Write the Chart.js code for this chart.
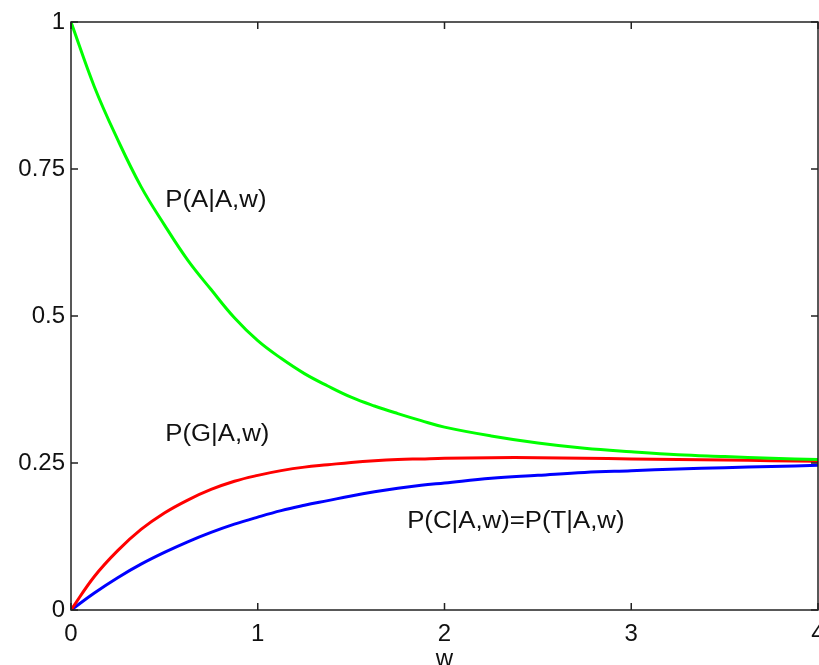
<!DOCTYPE html>
<html>
<head>
<meta charset="utf-8">
<style>
  html, body { margin: 0; padding: 0; overflow: hidden; background: #fff; }
  #wrap { position: absolute; left: 0; top: 0; }
</style>
<script src="https://cdn.jsdelivr.net/npm/chart.js@4/dist/chart.umd.min.js"></script>
</head>
<body>
<div id="wrap"><canvas id="probs" width="850" height="700"></canvas></div>
<script>
const w = [0, 0.125, 0.25, 0.375, 0.5, 0.625, 0.75, 0.875, 1, 1.125, 1.25, 1.375, 1.5, 1.625, 1.75, 1.875, 2, 2.25, 2.5, 2.75, 3, 3.25, 3.5, 3.75, 4];

const pAA = [1, 0.89, 0.80, 0.72, 0.655, 0.595, 0.545, 0.497, 0.458, 0.428, 0.402, 0.381, 0.362, 0.347, 0.334, 0.322, 0.311, 0.296, 0.284, 0.275, 0.269, 0.264, 0.261, 0.258, 0.256];
const pGA = [0, 0.057, 0.101, 0.137, 0.165, 0.187, 0.205, 0.219, 0.229, 0.237, 0.243, 0.247, 0.251, 0.254, 0.256, 0.257, 0.258, 0.259, 0.259, 0.258, 0.257, 0.256, 0.255, 0.254, 0.253];
const pCA = [0, 0.029, 0.055, 0.078, 0.098, 0.116, 0.132, 0.146, 0.158, 0.169, 0.178, 0.186, 0.194, 0.201, 0.207, 0.212, 0.216, 0.224, 0.229, 0.234, 0.237, 0.240, 0.242, 0.244, 0.246];

const yTicks = [0, 0.25, 0.5, 0.75, 1];
const xTicks = [0, 1, 2, 3, 4];

const notes = [
    { text: "P(A|A,w)", x: 0.505, y: 0.697 },
    { text: "P(G|A,w)", x: 0.505, y: 0.298 },
    { text: "P(C|A,w)=P(T|A,w)", x: 1.8, y: 0.150 },
];

const font = "'Liberation Sans', Arial, Helvetica, sans-serif";

function pts(ys) {
    return w.map((x, i) => ({ x, y: ys[i] }));
}

const line = (data, color) => ({
    data: pts(data),
    borderColor: color,
    borderWidth: 3,
    pointRadius: 0,
    showLine: true,
    fill: false,
    tension: 0.4,
});

// matlab style box with inward ticks, plus curve labels
const frame = {
    id: "frame",
    afterDatasetsDraw(chart) {
        const { ctx, chartArea: a, scales } = chart;
        ctx.save();
        ctx.strokeStyle = "#222";
        ctx.lineWidth = 1.5;
        ctx.strokeRect(a.left, a.top, a.right - a.left, a.bottom - a.top);
        const len = 7;
        ctx.beginPath();
        xTicks.forEach(v => {
            const px = scales.x.getPixelForValue(v);
            ctx.moveTo(px, a.bottom); ctx.lineTo(px, a.bottom - len);
            ctx.moveTo(px, a.top); ctx.lineTo(px, a.top + len);
        });
        yTicks.forEach(v => {
            const py = scales.y.getPixelForValue(v);
            ctx.moveTo(a.left, py); ctx.lineTo(a.left + len, py);
            ctx.moveTo(a.right, py); ctx.lineTo(a.right - len, py);
        });
        ctx.stroke();

        ctx.fillStyle = "#111";
        ctx.font = "23px " + font;
        ctx.textAlign = "left";
        ctx.textBaseline = "middle";
        notes.forEach(n => {
            const px = scales.x.getPixelForValue(n.x);
            const py = scales.y.getPixelForValue(n.y);
            ctx.save();
            ctx.translate(px, py);
            ctx.scale(1.12, 1);   // reference text is a bit stretched
            ctx.fillText(n.text, 0, 0);
            ctx.restore();
        });
        ctx.restore();
    }
};

new Chart(document.getElementById("probs").getContext("2d"), {
    type: "scatter",
    data: {
        datasets: [
            line(pAA, "#00ff00"),
            line(pGA, "#ff0000"),
            line(pCA, "#0000ff"),
        ]
    },
    options: {
        responsive: false,
        animation: false,
        layout: { padding: { top: 22, right: 32, left: 0, bottom: 0 } },
        plugins: {
            legend: { display: false },
            tooltip: { enabled: false },
        },
        scales: {
            x: {
                type: "linear",
                min: 0,
                max: 4,
                afterBuildTicks: s => { s.ticks = xTicks.map(v => ({ value: v })); },
                afterFit: s => { s.height = 90; },
                grid: { display: false, drawTicks: false },
                border: { display: false },
                ticks: {
                    color: "#111",
                    padding: 10,
                    maxRotation: 0,
                    font: { family: font, size: 24 },
                    callback: v => String(v),
                },
                title: {
                    display: true,
                    text: "w",
                    color: "#111",
                    padding: { top: 0, bottom: 26 },
                    font: { family: font, size: 24 },
                },
            },
            y: {
                min: 0,
                max: 1,
                afterBuildTicks: s => { s.ticks = yTicks.map(v => ({ value: v })); },
                afterFit: s => { s.width = 71; },
                grid: { display: false, drawTicks: false },
                border: { display: false },
                ticks: {
                    color: "#111",
                    padding: 6,
                    font: { family: font, size: 24 },
                    callback: v => String(v),
                },
            },
        },
    },
    plugins: [frame],
});
</script>
</body>
</html>
